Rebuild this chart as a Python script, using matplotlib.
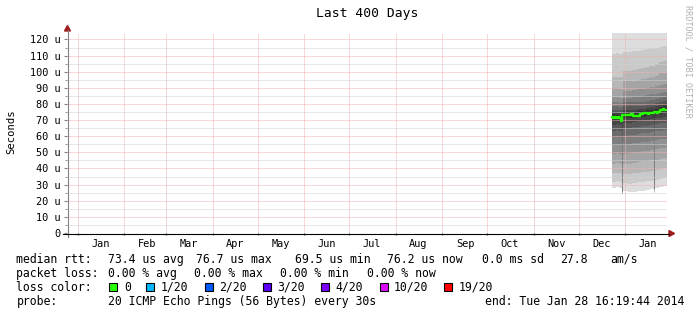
import numpy as np
import pandas as pd
import matplotlib
matplotlib.use("Agg")
import matplotlib.pyplot as plt
import matplotlib.dates as mdates
from matplotlib.patches import Polygon, Rectangle
from matplotlib.lines import Line2D
from matplotlib.ticker import MultipleLocator, FuncFormatter, NullFormatter

W, H = 697, 315

# --- data (values in microseconds) ---
start = pd.Timestamp("2012-12-24 16:19:44")
end = pd.Timestamp("2014-01-28 16:19:44")

smoke_dates = ["2013-12-23 00:00", "2013-12-25 12:00", "2013-12-27 12:00", "2013-12-29 12:00",
               "2013-12-30 04:00", "2014-01-02 12:00", "2014-01-05 12:00", "2014-01-08 12:00",
               "2014-01-11 12:00", "2014-01-14 12:00", "2014-01-17 12:00", "2014-01-20 00:00",
               "2014-01-20 16:00", "2014-01-23 12:00", "2014-01-26 00:00"]

# sorted pings 1..10 (fast half)
lower_pings = [
    [28.0, 28.5, 28.0, 23.5, 26.0, 25.5, 25.5, 26.0, 26.0, 26.5, 27.0, 25.0, 28.0, 28.5, 29.0],
    [31.5, 32.0, 31.5, 24.0, 31.0, 30.5, 31.0, 31.5, 31.5, 32.0, 32.5, 25.5, 33.0, 33.5, 34.0],
    [37.0, 37.5, 37.0, 24.5, 36.5, 36.5, 37.0, 37.5, 38.0, 38.0, 38.5, 26.0, 39.0, 39.5, 40.0],
    [43.0, 43.5, 43.0, 25.0, 43.0, 43.0, 43.5, 44.0, 44.5, 44.5, 45.0, 26.5, 45.5, 46.0, 46.5],
    [49.0, 49.5, 49.0, 25.5, 49.0, 49.5, 50.0, 50.5, 51.0, 51.0, 51.5, 27.0, 52.0, 52.5, 53.0],
    [54.5, 55.0, 54.5, 26.0, 54.5, 55.0, 55.5, 56.0, 56.5, 56.5, 57.0, 27.5, 57.5, 58.0, 58.5],
    [59.5, 60.0, 59.5, 57.0, 60.0, 60.5, 61.0, 61.5, 62.0, 62.0, 62.5, 60.0, 63.0, 63.5, 64.0],
    [63.5, 64.0, 63.5, 61.0, 64.5, 65.0, 65.5, 66.0, 66.5, 66.5, 67.0, 64.5, 67.5, 68.0, 68.5],
    [67.0, 67.5, 67.0, 65.0, 68.0, 68.5, 69.0, 69.5, 70.0, 70.0, 70.5, 68.0, 71.0, 71.5, 72.0],
    [69.5, 70.0, 69.5, 68.0, 71.0, 71.0, 71.5, 72.0, 72.0, 72.5, 73.0, 71.5, 73.5, 74.0, 74.5],
]
# sorted pings 11..20 (slow half)
upper_pings = [
    [73.5, 73.5, 73.0, 72.5, 75.0, 75.0, 75.0, 75.5, 75.5, 76.0, 76.5, 76.0, 77.0, 78.0, 78.5],
    [75.0, 75.0, 74.5, 74.0, 76.5, 76.5, 76.5, 77.0, 77.0, 77.5, 78.0, 77.5, 78.5, 79.5, 80.0],
    [76.5, 76.5, 76.0, 76.0, 78.5, 78.5, 78.5, 79.0, 79.0, 79.5, 80.0, 79.5, 80.5, 81.5, 82.0],
    [78.5, 78.5, 78.0, 78.0, 81.0, 81.0, 81.0, 81.5, 81.5, 82.0, 82.5, 82.0, 83.0, 84.0, 84.5],
    [81.0, 81.0, 80.5, 80.5, 84.0, 84.0, 84.5, 84.5, 85.0, 85.5, 86.0, 85.5, 86.0, 87.0, 87.5],
    [84.5, 84.5, 84.0, 84.0, 88.0, 88.0, 88.5, 89.0, 89.5, 90.0, 90.5, 90.0, 91.0, 92.0, 92.5],
    [90.0, 90.0, 89.5, 89.5, 94.0, 94.0, 94.5, 95.0, 95.5, 96.0, 96.5, 96.0, 97.5, 99.0, 99.5],
    [97.0, 97.0, 96.5, 96.5, 100.5, 100.5, 101.0, 101.5, 102.0, 103.0, 103.5, 103.0, 104.5, 106.0, 106.5],
    [111.0, 111.5, 111.0, 111.0, 112.5, 112.5, 113.0, 113.0, 113.5, 114.0, 114.5, 114.0, 115.0, 115.5, 116.0],
    [130.0, 130.0, 130.0, 130.0, 130.0, 130.0, 130.0, 130.0, 130.0, 130.0, 130.0, 130.0, 130.0, 130.0, 130.0],
]

median_dates = pd.date_range("2013-12-23", "2014-01-28", freq="D")
median_rtt = [71.8, 71.4, 72.0, 71.3, 71.9, 71.2, 69.5, 73.0, 73.3,
              73.1, 73.4, 72.9, 73.2, 73.5, 72.6, 72.3, 72.8, 72.4, 72.7,
              74.0, 73.8, 74.4, 74.1, 74.6, 74.0, 74.3, 74.7, 74.2, 74.8,
              75.1, 74.6, 75.0, 76.0, 76.5, 76.7, 76.3, 76.2]

# legend rows: (text, x position in px)
row_rtt = [("median rtt:", 16.5), ("73.4 us avg", 108.5), ("76.7 us max", 196),
           ("69.5 us min", 294.6), ("76.2 us now", 387.5), ("0.0 ms sd", 481.7),
           ("27.8", 560), ("am/s", 610)]
row_loss = [("packet loss:", 16.5), ("0.00 % avg", 108.5), ("0.00 % max", 194),
            ("0.00 % min", 280), ("0.00 % now", 367)]
loss_labels = ["0", "1/20", "2/20", "3/20", "4/20", "10/20", "19/20"]
loss_colors = ["#26ff00", "#00b8ff", "#0059ff", "#5e00ff", "#7e00ff", "#dd00ff", "#ff0000"]
loss_box_x = [108.5, 146.4, 205, 263, 321, 379.5, 444]
loss_text_x = [124, 160.7, 219.6, 277.7, 335.7, 393.8, 458.5]
probe_text = "20 ICMP Echo Pings (56 Bytes) every 30s"
end_text = "end: Tue Jan 28 16:19:44 2014"


def fx(x):
    return x / W


def fy(y):
    return 1 - y / H


plt.rcParams['font.family'] = ['DejaVu Sans Mono']

fig = plt.figure(figsize=(W / 100, H / 100), dpi=100)
fig.patch.set_facecolor("white")
ax = fig.add_axes([fx(67), fy(233), 600 / W, 200 / H])
ax.set_facecolor("white")

# smoke: nested bands, outermost lightest
t = mdates.date2num(list(pd.to_datetime(smoke_dates)) + [end])
for i in range(10):
    lo = np.append(lower_pings[i], lower_pings[i][-1])
    hi = np.append(upper_pings[9 - i], upper_pings[9 - i][-1])
    g = (int(190 / 10 * (10 - (i + 1))) + 50) / 255
    ax.fill_between(t, lo, hi, step='post', color=(g, g, g), linewidth=0, zorder=1)

# median line
tm = mdates.date2num(list(median_dates) + [end])
ax.step(tm, np.append(median_rtt, median_rtt[-1]), where='post',
        color='#26ff00', lw=1.7, zorder=3)

ax.set_xlim(mdates.date2num(start), mdates.date2num(end))
ax.set_ylim(0, 124)

ax.xaxis.set_major_locator(mdates.MonthLocator())
ax.xaxis.set_major_formatter(NullFormatter())
ax.xaxis.set_minor_locator(mdates.MonthLocator(bymonthday=16))
ax.xaxis.set_minor_formatter(mdates.DateFormatter('%b'))
ax.yaxis.set_major_locator(MultipleLocator(10))
ax.yaxis.set_minor_locator(MultipleLocator(5))
ax.yaxis.set_major_formatter(FuncFormatter(lambda v, p: "0" if v == 0 else f"{v:.0f} u"))

# dotted rrdtool-style grid, drawn over the smoke
ax.set_axisbelow(False)
ax.grid(which='major', color='#f0b0b0', linestyle=(0, (1, 1)), linewidth=0.72)
ax.yaxis.grid(which='minor', color='#d0d0d0', linestyle=(0, (1, 1)), linewidth=0.72)

ax.tick_params(axis='x', which='major', length=1.5, color='#444444')
ax.tick_params(axis='x', which='minor', length=0, pad=4, labelsize=7.4)
ax.tick_params(axis='y', which='major', length=2.2, color='#808080', pad=2.3, labelsize=7.4)
ax.tick_params(axis='y', which='minor', length=1.4, color='#808080')
for s in ax.spines.values():
    s.set_visible(False)

# axes with arrows
arrow_c = '#a01c1c'
fig.add_artist(Line2D([fx(67.5), fx(67.5)], [fy(237), fy(30)], color='#808080', lw=0.8,
                      transform=fig.transFigure))
fig.add_artist(Line2D([fx(63), fx(669)], [fy(233.5), fy(233.5)], color='black', lw=0.8,
                      transform=fig.transFigure))
fig.add_artist(Polygon([[fx(64.5), fy(31)], [fx(70.5), fy(31)], [fx(67.5), fy(25.5)]],
                       closed=True, color=arrow_c, transform=fig.transFigure))
fig.add_artist(Polygon([[fx(669), fy(230.5)], [fx(669), fy(236.5)], [fx(674.5), fy(233.5)]],
                       closed=True, color=arrow_c, transform=fig.transFigure))

# titles
fig.text(fx(367), fy(14), "Last 400 Days", ha='center', va='center', fontsize=9.4)
fig.text(fx(11), fy(132), "Seconds", rotation=90, ha='center', va='center', fontsize=7.6)
fig.text(fx(688), fy(5), "RRDTOOL / TOBI OETIKER", rotation=270, ha='center', va='top',
         fontsize=6.1, color='#b0b0b0')

# legend block
fs = 8.3
for txt, x in row_rtt:
    fig.text(fx(x), fy(263), txt, va='baseline', fontsize=fs)
for txt, x in row_loss:
    fig.text(fx(x), fy(277), txt, va='baseline', fontsize=fs)
fig.text(fx(16.5), fy(291), "loss color:", va='baseline', fontsize=fs)
for lab, c, bx, tx in zip(loss_labels, loss_colors, loss_box_x, loss_text_x):
    fig.add_artist(Rectangle((fx(bx), fy(291)), 8 / W, 8 / H, facecolor=c, edgecolor='black',
                             lw=0.8, transform=fig.transFigure))
    fig.text(fx(tx), fy(291), lab, va='baseline', fontsize=fs)
fig.text(fx(16.5), fy(305), "probe:", va='baseline', fontsize=fs)
fig.text(fx(108.5), fy(305), probe_text, va='baseline', fontsize=fs)
fig.text(fx(684), fy(305), end_text, ha='right', va='baseline', fontsize=fs)

fig.savefig("out.png", dpi=100, facecolor="white")
